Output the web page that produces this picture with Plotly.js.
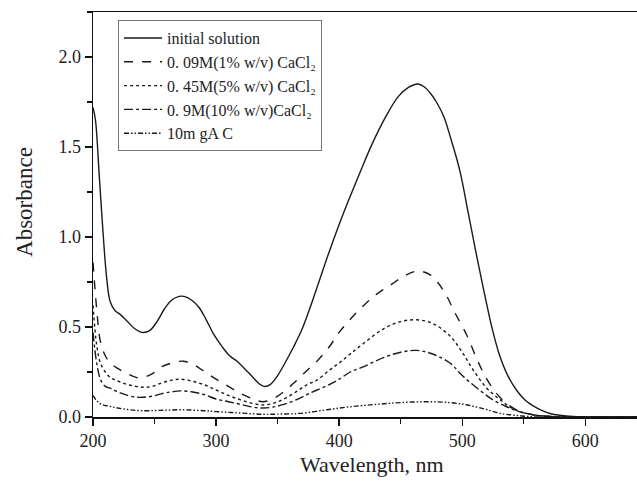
<!DOCTYPE html>
<html>
<head>
<meta charset="utf-8">
<script src="https://cdn.plot.ly/plotly-3.0.1.min.js"></script>
<style>html,body{margin:0;padding:0;background:#fff;}#chart{width:637px;height:481px;}</style>
</head>
<body>
<div id="chart"></div>
<script>
// Wavelength (nm) and absorbance for each series
const seriesNames = [
  "initial solution",
  "0. 09M(1% w/v) CaCl₂",
  "0. 45M(5% w/v) CaCl₂",
  "0. 9M(10% w/v)CaCl₂",
  "10m gA C"
];

const wlInitial = [200, 202, 205, 208, 211, 214, 218, 222, 228, 234, 240, 246, 252, 258, 264, 270, 274, 280, 286, 292, 298, 305, 311, 317, 323, 330, 335, 339, 344, 350, 356, 363, 370, 377, 384, 392, 400, 408, 417, 427, 438, 448, 456, 464, 469, 474, 479, 485, 491, 498, 505, 511, 517, 524, 530, 537, 544, 551, 558, 565, 572, 579, 590, 610, 642];
const absInitial = [1.72, 1.65, 1.35, 1.04, 0.78, 0.64, 0.59, 0.57, 0.53, 0.49, 0.47, 0.48, 0.53, 0.60, 0.65, 0.67, 0.67, 0.65, 0.61, 0.54, 0.46, 0.39, 0.34, 0.31, 0.27, 0.22, 0.185, 0.17, 0.18, 0.23, 0.30, 0.39, 0.49, 0.62, 0.76, 0.92, 1.07, 1.21, 1.36, 1.52, 1.67, 1.78, 1.83, 1.85, 1.835, 1.80, 1.75, 1.67, 1.54, 1.37, 1.13, 0.92, 0.72, 0.50, 0.35, 0.23, 0.15, 0.095, 0.06, 0.035, 0.018, 0.01, 0.003, 0.0, 0.0];

const wl1 = [200, 203, 206, 210, 214, 220, 228, 235, 241, 248, 256, 264, 273, 282, 291, 300, 310, 320, 330, 338, 346, 355, 365, 374, 382, 392, 400, 410, 420, 430, 441, 452, 463, 474, 485, 494, 504, 512, 520, 528, 536, 544, 552, 560, 570, 580, 600, 642];
const abs1 = [0.86, 0.60, 0.42, 0.34, 0.30, 0.27, 0.24, 0.22, 0.22, 0.24, 0.28, 0.30, 0.31, 0.29, 0.25, 0.21, 0.17, 0.13, 0.10, 0.085, 0.10, 0.14, 0.20, 0.26, 0.31, 0.39, 0.47, 0.55, 0.62, 0.68, 0.73, 0.78, 0.81, 0.79, 0.70, 0.58, 0.45, 0.32, 0.21, 0.13, 0.075, 0.04, 0.02, 0.01, 0.004, 0.0, 0.0, 0.0];

const wl2 = [200, 203, 206, 210, 214, 220, 228, 235, 241, 248, 256, 264, 271, 280, 290, 300, 310, 320, 330, 338, 346, 355, 365, 374, 382, 392, 400, 409, 420, 436, 450, 463, 476, 490, 500, 509, 520, 531, 540, 547, 555, 565, 580, 600, 642];
const abs2 = [0.62, 0.40, 0.30, 0.25, 0.22, 0.20, 0.18, 0.17, 0.165, 0.17, 0.19, 0.205, 0.21, 0.20, 0.18, 0.15, 0.12, 0.095, 0.075, 0.067, 0.075, 0.10, 0.14, 0.18, 0.205, 0.26, 0.30, 0.35, 0.41, 0.49, 0.53, 0.54, 0.52, 0.45, 0.36, 0.26, 0.16, 0.095, 0.05, 0.03, 0.015, 0.005, 0.0, 0.0, 0.0];

const wl3 = [200, 203, 206, 210, 214, 220, 228, 235, 241, 248, 256, 264, 271, 280, 290, 300, 310, 320, 330, 338, 346, 355, 365, 374, 382, 392, 400, 409, 420, 436, 450, 463, 476, 490, 500, 514, 525, 536, 544, 552, 560, 570, 580, 600, 642];
const abs3 = [0.47, 0.30, 0.21, 0.17, 0.16, 0.14, 0.12, 0.11, 0.11, 0.115, 0.13, 0.14, 0.145, 0.14, 0.125, 0.10, 0.085, 0.07, 0.055, 0.05, 0.055, 0.07, 0.095, 0.125, 0.15, 0.18, 0.21, 0.25, 0.28, 0.33, 0.36, 0.37, 0.35, 0.30, 0.23, 0.15, 0.095, 0.057, 0.035, 0.02, 0.01, 0.004, 0.0, 0.0, 0.0];

const wl4 = [200, 203, 207, 213, 220, 230, 240, 255, 272, 290, 300, 320, 338, 350, 368, 390, 409, 430, 450, 471, 490, 504, 518, 531, 545, 560, 580, 642];
const abs4 = [0.12, 0.09, 0.07, 0.06, 0.05, 0.04, 0.035, 0.037, 0.04, 0.035, 0.03, 0.022, 0.015, 0.016, 0.02, 0.04, 0.057, 0.07, 0.08, 0.085, 0.08, 0.067, 0.045, 0.02, 0.008, 0.0, 0.0, 0.0];

const xTicks = [200, 300, 400, 500, 600];
const yTicks = [0.0, 0.5, 1.0, 1.5, 2.0];
const xTitle = "Wavelength, nm";
const yTitle = "Absorbance";

const dashes = ["solid", "dash", "dot", "dashdot", "5px,2px,1.5px,2px,1.5px,2px"];
const xs = [wlInitial, wl1, wl2, wl3, wl4];
const ys = [absInitial, abs1, abs2, abs3, abs4];

const traces = seriesNames.map((name, i) => ({
  x: xs[i], y: ys[i], name: name, type: "scatter", mode: "lines",
  line: {color: "#1a1a1a", width: 1.4, dash: dashes[i], shape: "spline", smoothing: 1}
}));

const font = "Liberation Serif, Times New Roman, serif";
const layout = {
  width: 637, height: 481,
  margin: {l: 93, r: 0, t: 12, b: 64},
  paper_bgcolor: "#fff", plot_bgcolor: "#fff",
  font: {family: font, color: "#222", size: 16},
  showlegend: true,
  legend: {
    x: 0.046, y: 0.98, xanchor: "left", yanchor: "top",
    bgcolor: "#fff", bordercolor: "#777", borderwidth: 1,
    font: {family: font, size: 16, color: "#222"},
    itemwidth: 38, tracegroupgap: 0
  },
  xaxis: {
    range: [200, 642], tickvals: xTicks, ticktext: xTicks.map(String),
    ticks: "outside", ticklen: 7, tickwidth: 1.3, tickcolor: "#111",
    showline: true, linecolor: "#111", linewidth: 1.5, mirror: true,
    showgrid: false, zeroline: false,
    minor: {dtick: 50, tick0: 250, ticks: "outside", ticklen: 5, tickwidth: 1.2, tickcolor: "#111"},
    tickfont: {family: font, size: 18, color: "#222"}
  },
  yaxis: {
    range: [0, 2.25], tickvals: yTicks, ticktext: yTicks.map(v => v.toFixed(1)),
    ticks: "outside", ticklen: 7, tickwidth: 1.3, tickcolor: "#111",
    showline: true, linecolor: "#111", linewidth: 1.5,
    showgrid: false, zeroline: false,
    minor: {tickvals: [0.25, 0.75, 1.25, 1.75, 2.25], ticks: "outside", ticklen: 5, tickwidth: 1.2, tickcolor: "#111"},
    tickfont: {family: font, size: 18, color: "#222"}
  },
  annotations: [
    {text: xTitle, xref: "paper", yref: "paper", x: 0.513, y: -0.117, xanchor: "center", yanchor: "middle",
     showarrow: false, font: {family: font, size: 22, color: "#222"}},
    {text: yTitle, xref: "paper", yref: "paper", x: -0.125, y: 0.531, xanchor: "center", yanchor: "middle",
     textangle: -90, showarrow: false, font: {family: font, size: 23, color: "#222"}}
  ]
};

Plotly.newPlot("chart", traces, layout, {displayModeBar: false, staticPlot: true});
</script>
</body>
</html>
